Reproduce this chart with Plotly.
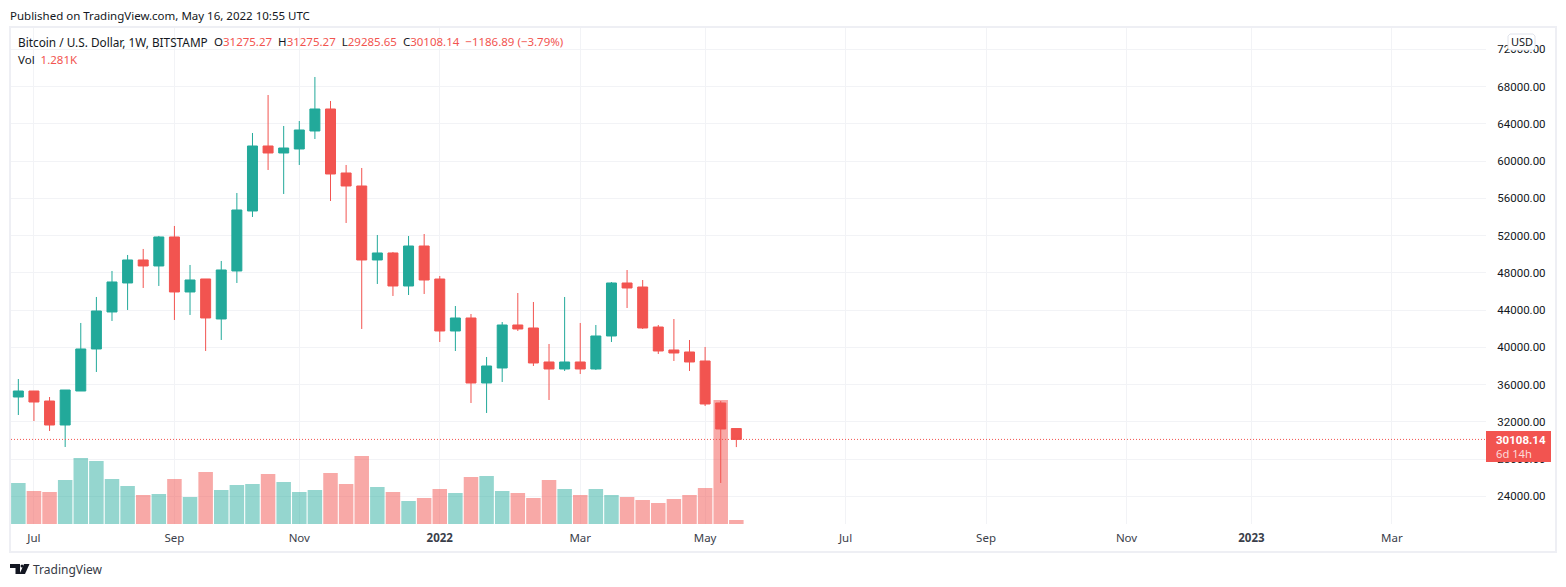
import pandas as pd
import plotly.graph_objects as go

W = 1566
H = 587

dates = pd.date_range("2021-06-28", periods=47, freq="W-MON")

opens = [34663, 35307, 34234, 31657, 35307, 39820, 43793, 46907, 49376, 48732, 51846, 45940,
         47336, 43041, 48195, 54637, 61616, 60865, 61294, 63227, 65589, 58717, 57321, 49376,
         50128, 46583, 50877, 47334, 41751, 43147, 36168, 37778, 42395, 42073, 38422, 37671,
         38422, 37671, 41214, 46905, 46475, 42180, 39711, 39496, 38530, 34020, 31275.27]
highs = [36596, 35307, 34663, 35415, 42612, 45403, 48195, 49913, 50557, 51953, 53027, 48839,
         47336, 49269, 56570, 63012, 67092, 63764, 64300, 69025, 66448, 59576, 59254, 52060,
         50235, 51951, 52166, 47656, 44435, 43576, 38959, 42717, 45831, 44865, 40355, 45402,
         42610, 42395, 47012, 48300, 47227, 42395, 43039, 40785, 40033, 34235, 31275.27]
lows = [32731, 32086, 31013, 29295, 35307, 37351, 42826, 44007, 46370, 46584, 42934, 43471,
        39605, 40786, 46906, 53993, 59039, 56462, 59576, 62368, 55711, 53349, 41967, 46799,
        45511, 45616, 45724, 40570, 39604, 34020, 32947, 36275, 41751, 37993, 34342, 37456,
        37134, 37563, 40570, 44220, 41966, 39281, 38530, 37456, 33698, 25431, 29285.65]
closes = [35307, 34126, 31657, 35415, 39820, 43900, 47014, 49376, 48732, 51846, 45940, 47229,
          43149, 48302, 54744, 61616, 60865, 61401, 63334, 65589, 58610, 57321, 49376, 50128,
          46583, 50877, 47227, 41751, 43147, 36168, 37993, 42395, 41966, 38315, 37671, 38422,
          37671, 41214, 46905, 46368, 42073, 39604, 39389, 38422, 33913, 31229, 30108.14]
volumes = [13120, 10560, 10240, 14080, 21120, 20160, 14400, 12160, 9280, 9600, 14400, 8640,
           16640, 10880, 12480, 12800, 16000, 13440, 10240, 10880, 16320, 12800, 21760, 11840,
           10240, 7360, 8320, 11200, 9920, 15040, 15360, 10560, 9920, 8320, 14080, 11200,
           9280, 11200, 9280, 8640, 7680, 6720, 8000, 9280, 11520, 39680, 1281]

tick_dates = ["2021-07-05", "2021-09-06", "2021-11-01", "2022-01-03", "2022-03-07", "2022-05-02",
              "2022-07-04", "2022-09-05", "2022-11-07", "2023-01-02", "2023-03-06"]
tick_labels = ["Jul", "Sep", "Nov", "<b>2022</b>", "Mar", "May", "Jul", "Sep", "Nov", "<b>2023</b>", "Mar"]
price_ticks = list(range(24000, 72001, 4000))

last_price = 30108.14

UP = "#22a99a"
DOWN = "#f25450"
UP_VOL = "rgba(34,169,154,0.48)"
DOWN_VOL = "rgba(242,84,80,0.5)"
TEXT = "#131722"
GRID = "#f2f3f6"
BORDER = "#eeeff4"
FONT = "Noto Sans"
NUM_FONT = "Roboto"

# pixel position in the screenshot -> paper coordinates
PLOT_L, PLOT_R, PLOT_T, PLOT_B = 11, 1486, 28, 524


def px(x):
    return (x - PLOT_L) / (PLOT_R - PLOT_L)


def py(y):
    return (PLOT_B - y) / (PLOT_B - PLOT_T)


def label(x, y, text, size=11.5, color=TEXT, anchor="left", family=FONT):
    return dict(x=px(x), y=py(y), xref="paper", yref="paper", text=text, showarrow=False,
                xanchor=anchor, yanchor="middle", align="left", borderpad=0, borderwidth=0,
                font=dict(family=family, size=size, color=color))


def poly(points):
    return "M " + " L ".join(f"{px(a)} {py(b)}" for a, b in points) + " Z"


def paper_shape(path, fill, line_color="rgba(0,0,0,0)", width=0):
    return dict(type="path", xref="paper", yref="paper", path=path, fillcolor=fill,
                line=dict(color=line_color, width=width), layer="above")


fig = go.Figure()

# volume goes on the first axis so the candles stay on top of it
fig.add_trace(go.Bar(x=dates, y=volumes, yaxis="y",
                     marker=dict(color=[UP_VOL if c >= o else DOWN_VOL for o, c in zip(opens, closes)],
                                 line_width=0),
                     hoverinfo="skip"))
fig.add_trace(go.Candlestick(x=dates, open=opens, high=highs, low=lows, close=closes, yaxis="y2",
                             increasing=dict(line=dict(color=UP, width=1), fillcolor=UP),
                             decreasing=dict(line=dict(color=DOWN, width=1), fillcolor=DOWN),
                             whiskerwidth=0))

fig.update_layout(
    width=W, height=H, autosize=False, showlegend=False,
    paper_bgcolor="white", plot_bgcolor="white",
    margin=dict(l=PLOT_L, r=W - PLOT_R, t=PLOT_T, b=H - PLOT_B, autoexpand=False),
    font=dict(family=FONT, size=12, color=TEXT),
    bargap=0.07,
    boxgap=0.2,
    boxgroupgap=0.2,
    xaxis=dict(type="date", range=["2021-06-24 17:00", "2023-04-17 05:00"], rangeslider=dict(visible=False),
               tickmode="array", tickvals=tick_dates, ticktext=tick_labels,
               showgrid=True, gridcolor=GRID, gridwidth=1, showline=False, zeroline=False,
               ticks="outside", ticklen=3, tickcolor="white", tickfont=dict(size=11.5, color="#3a3e4a")),
    yaxis=dict(range=[0, 158720], showgrid=False, showticklabels=False, zeroline=False, showline=False),
    yaxis2=dict(overlaying="y", side="right", range=[21026, 74286], tickmode="array", tickvals=price_ticks,
                tickformat=".2f", showgrid=True, gridcolor=GRID, gridwidth=1, zeroline=False, showline=False,
                ticks="outside", ticklen=8, tickcolor="white",
                tickfont=dict(family=NUM_FONT, size=11.5, color=TEXT)),
)

# outer frame
fig.add_shape(type="rect", xref="paper", yref="paper", x0=px(10), x1=px(1556), y0=py(552), y1=py(27),
              line=dict(color=BORDER, width=2), layer="above")

# last price line and tag
fig.add_shape(type="line", xref="paper", yref="y2", x0=0, x1=1, y0=last_price, y1=last_price,
              line=dict(color=DOWN, width=1, dash="1px,2px"), layer="above")
fig.add_shape(paper_shape(poly([(1486, 431), (1551, 431), (1551, 462), (1486, 462)]), DOWN))
# USD box
fig.add_shape(paper_shape(poly([(1510, 34), (1533, 34), (1535, 36), (1535, 48), (1533, 50), (1510, 50),
                                (1508, 48), (1508, 36)]), "white", "#e0e3eb", 1))

# TradingView logo
fig.add_shape(paper_shape(poly([(10, 564), (20, 564), (20, 574), (15.5, 574), (15.5, 568), (10, 568)]), TEXT))
fig.add_shape(paper_shape(poly([(24, 564), (29.5, 564), (25, 574), (19.5, 574)]), TEXT))
fig.add_shape(type="circle", xref="paper", yref="paper", x0=px(20.5), x1=px(23.5), y0=py(567.5), y1=py(564.5),
              fillcolor=TEXT, line_width=0, layer="above")

red = f'<span style="color:{DOWN}">'
ohlc_line = (f"O{red}31275.27</span>  H{red}31275.27</span>"
             f"  L{red}29285.65</span>  C{red}30108.14</span>  {red}−1186.89 (−3.79%)</span>")

for a in [
    label(10, 15, "Published on TradingView.com, May 16, 2022 10:55 UTC"),
    label(18, 42, "Bitcoin / U.S. Dollar, 1W, BITSTAMP", size=11.8),
    label(214, 42, ohlc_line),
    label(18, 59, f"Vol  {red}1.281K</span>"),
    label(1521.5, 42, "USD", size=11, anchor="center"),
    label(1496, 440, "<b>30108.14</b>", color="white", family=NUM_FONT),
    label(1496, 453, "6d 14h", size=11.2, color="#fcdcdb"),
    label(33, 569, "TradingView", size=12, color="#363a45"),
]:
    fig.add_annotation(a)

fig.write_html("out.html", config=dict(displayModeBar=False),
               post_script="document.body.style.margin='0';document.body.style.overflow='hidden';")
